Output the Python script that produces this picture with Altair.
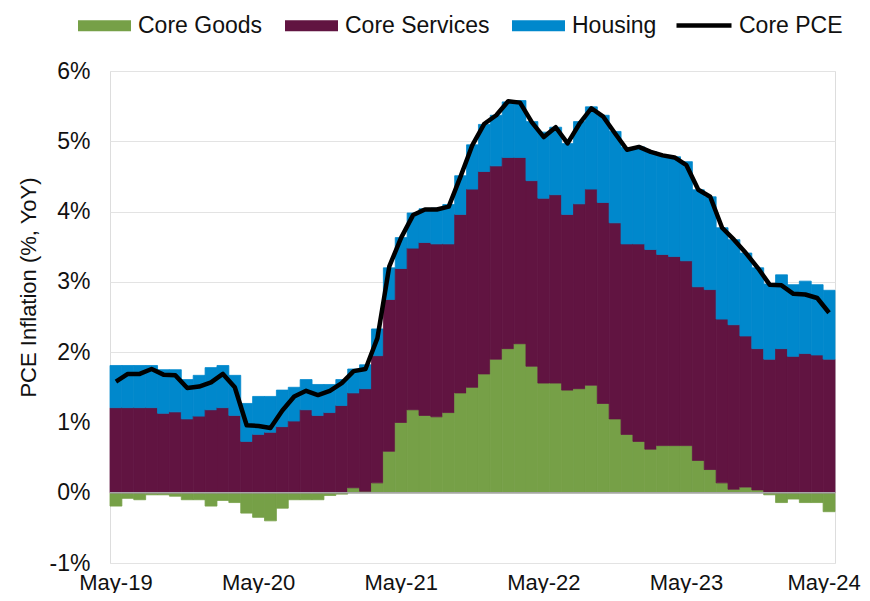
import altair as alt
import pandas as pd

months = pd.date_range("2019-05-01", periods=61, freq="MS").strftime("%b-%y").tolist()

core_goods = [-0.19, -0.08, -0.10, -0.03, -0.03, -0.05, -0.10, -0.10, -0.19, -0.11,
              -0.14, -0.29, -0.35, -0.40, -0.22, -0.10, -0.10, -0.10, -0.04, -0.02,
              0.07, 0.02, 0.14, 0.59, 1.00, 1.18, 1.10, 1.08, 1.14, 1.42,
              1.50, 1.69, 1.90, 2.05, 2.12, 1.80, 1.56, 1.56, 1.46, 1.48,
              1.53, 1.27, 1.05, 0.83, 0.73, 0.62, 0.67, 0.67, 0.67, 0.46,
              0.33, 0.14, 0.05, 0.08, 0.04, -0.03, -0.14, -0.09, -0.14, -0.14,
              -0.27]
core_services = [1.21, 1.21, 1.21, 1.21, 1.13, 1.15, 1.05, 1.09, 1.18, 1.21,
                 1.10, 0.73, 0.83, 0.86, 0.94, 1.02, 1.18, 1.10, 1.14, 1.24,
                 1.35, 1.46, 1.81, 2.16, 2.19, 2.30, 2.46, 2.46, 2.40, 2.54,
                 2.82, 2.88, 2.75, 2.72, 2.65, 2.64, 2.63, 2.68, 2.50, 2.63,
                 2.79, 2.86, 2.79, 2.71, 2.81, 2.84, 2.72, 2.69, 2.63, 2.47,
                 2.56, 2.33, 2.34, 2.15, 2.01, 1.90, 2.05, 1.94, 1.98, 1.96,
                 1.90]
housing = [0.60, 0.60, 0.60, 0.60, 0.62, 0.60, 0.56, 0.58, 0.60, 0.60,
           0.57, 0.54, 0.54, 0.51, 0.52, 0.48, 0.43, 0.44, 0.40, 0.37,
           0.34, 0.34, 0.38, 0.45, 0.44, 0.50, 0.48, 0.51, 0.56, 0.55,
           0.63, 0.67, 0.72, 0.79, 0.81, 0.84, 0.94, 0.96, 1.01, 1.17,
           1.17, 1.24, 1.30, 1.37, 1.38, 1.39, 1.41, 1.42, 1.41, 1.38,
           1.32, 1.30, 1.21, 1.18, 1.15, 1.07, 1.05, 1.02, 1.03, 1.00,
           0.98]
core_pce = [1.58, 1.69, 1.69, 1.76, 1.68, 1.67, 1.49, 1.51, 1.57, 1.69,
            1.50, 0.96, 0.95, 0.92, 1.17, 1.37, 1.45, 1.39, 1.45, 1.56,
            1.73, 1.76, 2.20, 3.22, 3.63, 3.95, 4.03, 4.03, 4.07, 4.50,
            4.95, 5.25, 5.37, 5.57, 5.55, 5.27, 5.06, 5.20, 4.97, 5.25,
            5.47, 5.35, 5.11, 4.88, 4.92, 4.85, 4.80, 4.77, 4.66, 4.31,
            4.21, 3.77, 3.60, 3.41, 3.20, 2.96, 2.95, 2.83, 2.82, 2.77,
            2.56]

series = ["Core Goods", "Core Services", "Housing"]
colors = ["#76A047", "#611441", "#0088CC"]
y_ticks = [-1, 0, 1, 2, 3, 4, 5, 6]
x_labels = [m for m in months if m.startswith("May")]

rows = []
for i, m in enumerate(months):
    for k, (name, vals) in enumerate(zip(series, [core_goods, core_services, housing])):
        rows.append({"month": m, "series": name, "order": k, "value": vals[i]})
bars_df = pd.DataFrame(rows)
line_df = pd.DataFrame({"month": months, "series": "Core PCE", "value": core_pce})
zero_df = pd.DataFrame({"y": [0]})

FONT = "Liberation Sans"
TXT = "#111111"

x_enc = alt.X(
    "month:O", sort=months, title=None,
    scale=alt.Scale(paddingInner=0, paddingOuter=0),
    axis=alt.Axis(values=x_labels, labelAngle=0, domain=False, ticks=False,
                  labelFontSize=22, labelFont=FONT, labelColor=TXT,
                  labelPadding=9, grid=False,
                  labelOffset={"condition": {"test": "datum.value == 'May-24'",
                                             "value": -5}, "value": 0}),
)
y_scale = alt.Scale(domain=[-1, 6], nice=False, zero=False)

bars = alt.Chart(bars_df).mark_bar(strokeWidth=0.8).encode(
    x=x_enc,
    y=alt.Y("value:Q", stack="zero", scale=y_scale,
            axis=alt.Axis(values=y_ticks, labelExpr="datum.value + '%'",
                          title="PCE Inflation (%, YoY)", titleFont=FONT,
                          titleFontSize=22, titleFontWeight="normal",
                          titleColor=TXT, titleX=-82, titleY=216,
                          titleBaseline="middle", titleAngle=-90,
                          domain=False, ticks=False, labelFontSize=23,
                          labelFont=FONT, labelColor=TXT, labelPadding=20,
                          grid=True, gridColor="#e3e3e3", gridWidth=1)),
    color=alt.Color("series:N", sort=series,
                    scale=alt.Scale(domain=series, range=colors),
                    legend=alt.Legend(title=None, orient="none", legendX=-32,
                                      legendY=-72, direction="horizontal",
                                      symbolType="M-1,-0.21H1V0.21H-1Z",
                                      symbolSize=2809, symbolStrokeWidth=0,
                                      symbolOpacity=1,
                                      labelFont=FONT, labelFontSize=23,
                                      labelColor=TXT, labelOffset=7,
                                      columnPadding=22, padding=0)),
    stroke=alt.Stroke("series:N", sort=series,
                      scale=alt.Scale(domain=series, range=colors),
                      legend=None),
    order=alt.Order("order:Q"),
)

zero = alt.Chart(zero_df).mark_rule(color="#a6a6a6", strokeWidth=1.5).encode(
    y=alt.Y("y:Q", scale=y_scale)
)

line = alt.Chart(line_df).mark_line(strokeWidth=4.5, strokeJoin="round").encode(
    x=x_enc,
    y=alt.Y("value:Q", stack=None, scale=y_scale),
    stroke=alt.Stroke("series:N",
                      scale=alt.Scale(domain=["Core PCE"], range=["#000000"]),
                      legend=alt.Legend(title=None, orient="none", legendX=564,
                                        legendY=-75.5, symbolType="stroke",
                                        symbolSize=3025, symbolStrokeWidth=4.5,
                                        labelFont=FONT, labelFontSize=23,
                                        labelColor=TXT, labelOffset=5,
                                        padding=0)),
)

chart = alt.layer(bars, zero, line).resolve_scale(stroke="independent").properties(
    width=725, height=492,
    padding={"left": 102, "top": 63, "right": 27, "bottom": 30},
    autosize=alt.AutoSizeParams(type="none"),
).configure_view(stroke=None).configure(font=FONT)

chart.save("out.html", embed_options={"renderer": "svg", "actions": False})
